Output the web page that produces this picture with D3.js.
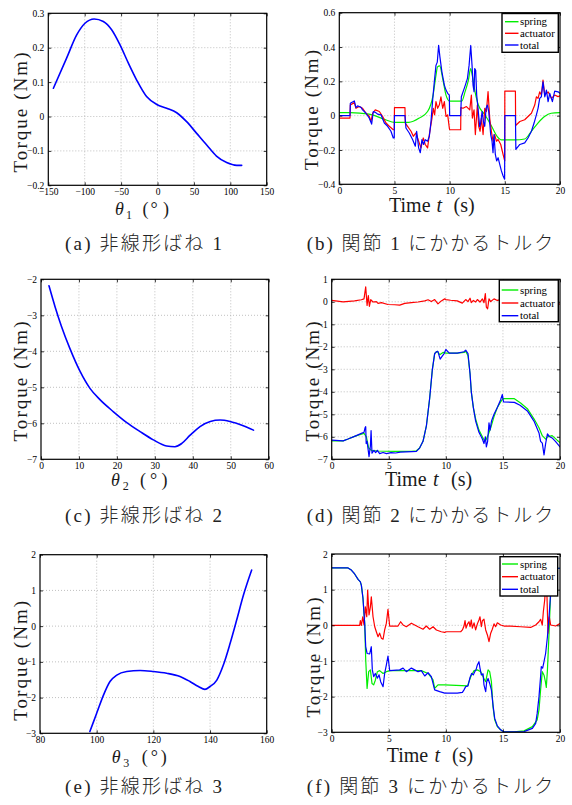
<!DOCTYPE html>
<html><head><meta charset="utf-8">
<script src="https://cdn.jsdelivr.net/npm/d3@7"></script>
<style>body{margin:0;background:#fff}svg{display:block}</style>
</head><body>
<svg id="c" width="572" height="805"></svg>
<script>
// ---------- DATA ----------
// (a) nonlinear spring 1
const aTheta  = [-143,-125,-111,-99.6,-87,-74.4,-63,-51.5,-40,-28.6,-15,-1,12.6,26.4,40,53.8,67.6,81,95,108.8,115.7];
const aTorque = [0.082,0.169,0.237,0.271,0.2835,0.276,0.252,0.208,0.155,0.106,0.058,0.035,0.024,0.011,-0.015,-0.049,-0.083,-0.115,-0.134,-0.142,-0.142];
// (c) nonlinear spring 2
const cTheta  = [2.1,3.7,5.4,7.6,10.3,12.9,15.6,19.1,22.6,26.1,29.6,33.1,35.3,37.1,39.3,41.9,44.6,47.2,49.8,53.3,56];
const cTorque = [-2.18,-2.76,-3.31,-3.92,-4.56,-5.03,-5.35,-5.68,-5.98,-6.23,-6.46,-6.63,-6.65,-6.56,-6.33,-6.09,-5.95,-5.91,-5.95,-6.07,-6.19];
// (e) nonlinear spring 3
const eTheta  = [97.6,100,102.4,104.7,107.1,110.6,115.3,120,124.7,129.4,132.9,135.9,138.2,140,142.4,144.7,147.1,149.4,151.8,154.7];
const eTorque = [-2.95,-2.44,-1.93,-1.55,-1.37,-1.27,-1.24,-1.27,-1.32,-1.41,-1.55,-1.69,-1.77,-1.69,-1.51,-1.09,-0.48,0.17,0.87,1.57];

// (b) joint 1 torques [t, torque]
const bSpring = [[0,0.018],[1,0.018],[2.7,0.009],[4.2,-0.024],[5,-0.039],[6.3,-0.039],[7.25,-0.014],[8,0.024],[8.5,0.12],[8.76,0.235],[8.9,0.284],[9.1,0.29],[9.37,0.216],[9.67,0.12],[10,0.085],[11.1,0.085],[11.4,0.14],[11.7,0.207],[11.9,0.274],[12.05,0.235],[12.3,0.14],[12.6,0.062],[13.2,0.005],[13.8,-0.062],[14.3,-0.12],[14.7,-0.141],[15.9,-0.141],[16.8,-0.136],[17.4,-0.091],[18,-0.043],[18.6,-0.005],[19.2,0.014],[20,0.018]];
const bActuator = [[0,-0.014],[0.97,-0.014],[1,0.062],[1.36,0.076],[1.51,0.043],[1.81,0.053],[2.11,0.043],[2.42,0.014],[2.72,-0.005],[2.87,-0.034],[3.02,0.014],[3.26,0.034],[3.63,0.024],[3.93,-0.005],[4.23,-0.043],[4.53,-0.062],[4.89,-0.082],[4.98,-0.082],[5,0.047],[5.95,0.047],[5.98,-0.043],[6.19,-0.062],[6.5,-0.091],[6.71,-0.12],[6.95,-0.101],[7.19,-0.149],[7.4,-0.188],[7.61,-0.13],[7.79,-0.168],[8,-0.188],[8.16,-0.11],[8.4,-0.014],[8.52,0.043],[8.64,0.005],[8.76,0.082],[8.91,0.043],[9.06,0.062],[9.21,0.11],[9.37,0.043],[9.52,0.082],[9.67,-0.005],[9.82,0.005],[9.97,-0.072],[10,-0.082],[11,-0.082],[11.02,0.047],[11.21,0.043],[11.52,0.053],[11.82,0.034],[11.97,0.12],[12.06,-0.014],[12.21,0.034],[12.33,-0.11],[12.51,0.062],[12.63,-0.062],[12.76,-0.091],[12.88,-0.014],[13.03,-0.11],[13.18,0.043],[13.33,0.024],[13.48,0.14],[13.63,-0.014],[13.78,-0.091],[13.93,-0.149],[14.08,-0.11],[14.24,-0.149],[14.39,-0.139],[14.63,-0.168],[14.84,-0.226],[14.99,-0.264],[15,0.143],[15.96,0.143],[15.98,-0.057],[16.36,-0.034],[16.8,-0.024],[17.41,0.014],[17.71,0.062],[17.86,0.11],[18.01,0.101],[18.16,0.139],[18.31,0.12],[18.46,0.207],[18.62,0.12],[18.92,0.139],[19.22,0.101],[19.52,0.12],[19.82,0.111],[20,0.115]];
const bTotal = [[0,0],[0.97,0],[1,0.072],[1.36,0.086],[1.51,0.047],[1.66,0.057],[1.96,0.049],[2.11,0.034],[2.42,0.014],[2.72,-0.015],[2.93,-0.049],[3.08,0.024],[3.26,0.02],[3.47,0.009],[3.78,0.005],[4.08,-0.043],[4.38,-0.062],[4.68,-0.091],[4.89,-0.13],[4.98,-0.13],[5,0],[5.95,0],[6.04,-0.072],[6.34,-0.101],[6.65,-0.14],[6.89,-0.178],[7.01,-0.091],[7.19,-0.188],[7.34,-0.216],[7.49,-0.14],[7.64,-0.168],[7.79,-0.14],[8,-0.149],[8.16,-0.12],[8.31,-0.034],[8.46,0.091],[8.61,0.197],[8.76,0.293],[8.88,0.312],[9,0.41],[9.12,0.341],[9.3,0.254],[9.52,0.178],[9.67,0.149],[9.82,0.13],[9.97,0.12],[10,0],[11,0],[11.06,0.11],[11.37,0.168],[11.61,0.216],[11.76,0.293],[11.91,0.409],[12.03,0.293],[12.12,0.178],[12.21,0.14],[12.27,0.274],[12.36,0.264],[12.45,0.12],[12.57,0.043],[12.72,-0.064],[12.81,-0.043],[12.94,0.024],[13.06,-0.034],[13.18,-0.062],[13.3,0.043],[13.42,0.062],[13.54,0.024],[13.63,-0.043],[13.72,-0.11],[13.84,-0.149],[13.93,-0.216],[14.02,-0.11],[14.14,-0.226],[14.26,-0.264],[14.39,-0.245],[14.54,-0.284],[14.69,-0.322],[14.84,-0.35],[14.98,-0.37],[15,0],[15.96,0],[16,-0.197],[16.36,-0.168],[16.8,-0.159],[17.1,-0.13],[17.41,-0.091],[17.65,-0.043],[17.86,0.005],[18.01,0.043],[18.16,0.101],[18.31,0.11],[18.46,0.197],[18.62,0.11],[18.77,0.149],[18.92,0.082],[19.07,0.13],[19.31,0.082],[19.52,0.143],[19.82,0.139],[20,0.13]];

// (d) joint 2 torques
const dSpring = [[0,-6.18],[1,-6.18],[1.43,-6.1],[2,-5.98],[2.6,-5.88],[2.83,-5.85],[3.04,-6.0],[3.24,-6.5],[3.47,-6.6],[4.06,-6.63],[5.52,-6.65],[6.98,-6.65],[7.42,-6.62],[7.7,-6.5],[8,-6.2],[8.3,-5.5],[8.58,-4.3],[8.82,-3.0],[9.02,-2.3],[9.26,-2.2],[9.46,-2.35],[9.75,-2.25],[10,-2.28],[11,-2.28],[11.59,-2.25],[11.74,-2.2],[11.94,-2.4],[12.12,-3.2],[12.23,-4.0],[12.41,-4.7],[12.61,-5.2],[12.9,-5.7],[13.2,-6.0],[13.4,-6.2],[13.55,-6.1],[13.72,-5.9],[13.93,-5.6],[14.22,-5.1],[14.51,-4.7],[14.8,-4.45],[15,-4.3],[15.97,-4.3],[16.55,-4.5],[17.14,-4.75],[17.72,-5.2],[18.16,-5.6],[18.45,-5.95],[18.74,-6.1],[18.9,-6.0],[19.31,-5.95],[19.75,-6.15],[20,-6.25]];
const dActuator = [[0,0.06],[1,0],[2,0.04],[2.6,0.09],[2.83,0.13],[2.98,0.66],[3.1,-0.16],[3.21,0.28],[3.3,-0.2],[3.42,0.1],[3.62,-0.01],[3.91,0.01],[4.06,-0.07],[4.35,-0.04],[4.93,-0.12],[5.52,-0.13],[5.96,-0.15],[6.4,-0.07],[6.98,-0.04],[7.56,-0.01],[8.15,0.04],[8.44,0.09],[8.73,0.01],[9.02,0.1],[9.31,-0.09],[9.6,0.04],[9.9,0.13],[10,0.1],[10.42,0.07],[11,0.04],[11.44,-0.06],[11.74,0.1],[11.94,0.01],[12.12,0.16],[12.23,-0.04],[12.41,0.06],[12.61,-0.01],[12.76,0.1],[12.99,-0.01],[13.2,0.13],[13.34,-0.04],[13.46,0.36],[13.55,-0.24],[13.66,-0.31],[13.78,0.13],[13.93,0.01],[14.22,0.13],[14.51,0.06],[14.8,0.1],[15.5,0.05],[16,0],[17,0.05],[18,-0.1],[18.5,0.1],[19,-0.05],[20,-0.1]];
const dTotal = [[0,-6.15],[1,-6.18],[1.43,-6.1],[2,-5.98],[2.6,-5.85],[2.83,-5.8],[2.92,-5.6],[2.98,-5.55],[3.02,-6.3],[3.1,-6.2],[3.27,-6.88],[3.39,-6.4],[3.45,-5.72],[3.53,-6.73],[3.7,-6.6],[3.85,-6.7],[4,-6.6],[4.2,-6.75],[4.5,-6.7],[4.8,-6.75],[5.2,-6.7],[5.6,-6.72],[6,-6.68],[6.5,-6.67],[7,-6.66],[7.42,-6.65],[7.7,-6.5],[8,-6.2],[8.3,-5.5],[8.58,-4.3],[8.82,-3.0],[9.02,-2.3],[9.17,-2.22],[9.3,-2.2],[9.5,-2.55],[9.7,-2.4],[9.85,-2.3],[10,-2.12],[10.3,-2.28],[11,-2.28],[11.59,-2.22],[11.74,-2.15],[11.94,-2.3],[12.12,-3.2],[12.23,-4.0],[12.41,-4.7],[12.61,-5.3],[12.9,-5.8],[13.2,-6.1],[13.34,-6.3],[13.46,-6.0],[13.55,-6.45],[13.66,-6.2],[13.78,-5.38],[13.87,-5.7],[14,-5.3],[14.22,-5.0],[14.51,-4.7],[14.8,-4.35],[14.95,-4.12],[15.05,-4.45],[16,-4.47],[16.5,-4.6],[17.14,-4.85],[17.72,-5.3],[18.16,-5.83],[18.3,-6.2],[18.45,-6.28],[18.6,-6.8],[18.74,-6.3],[18.9,-5.87],[19.1,-6.0],[19.31,-6.05],[19.6,-6.2],[20,-6.45]];

// (f) joint 3 torques
const fSpring = [[0,1.61],[1.43,1.61],[1.72,1.55],[2.01,1.44],[2.31,1.29],[2.51,1.22],[2.6,1.12],[2.74,0.76],[2.89,0.06],[2.98,-0.97],[3.1,-1.77],[3.24,-1.3],[3.39,-1.25],[3.53,-1.63],[3.68,-1.67],[3.82,-1.54],[4.0,-1.3],[4.2,-1.27],[4.5,-1.35],[4.79,-1.3],[5.08,-1.27],[6,-1.27],[7,-1.27],[7.85,-1.27],[8.44,-1.35],[8.88,-1.53],[9.02,-1.77],[9.31,-1.67],[9.9,-1.67],[11.9,-1.7],[12.03,-1.58],[12.2,-1.43],[12.47,-1.27],[12.76,-1.25],[13.05,-1.3],[13.34,-1.49],[13.49,-1.58],[13.7,-1.25],[13.84,-1.3],[13.99,-1.58],[14.13,-2.28],[14.28,-2.65],[14.51,-2.84],[14.8,-2.93],[15.09,-2.99],[15.97,-2.99],[16.85,-2.96],[17.58,-2.84],[18,-2.65],[18.16,-2.37],[18.3,-1.81],[18.45,-1.3],[18.6,-1.4],[18.72,-1.58],[18.8,-1.74],[18.9,-1.25],[19.04,-0.22],[19.18,0.9],[19.33,1.45],[19.6,1.6],[20,1.6]];
const fActuator = [[0,0],[2.45,0],[2.51,0.13],[2.6,0],[2.72,0.24],[2.83,0.01],[2.95,0.52],[3.07,0.24],[3.15,0.99],[3.27,0.29],[3.39,0.52],[3.47,0.8],[3.62,0.24],[3.77,-0.04],[3.91,-0.18],[4.06,-0.32],[4.2,-0.22],[4.35,-0.36],[4.5,-0.39],[4.64,-0.13],[4.79,0.06],[4.93,0.45],[5.08,-0.02],[5.52,-0.02],[5.81,-0.02],[6.04,0.1],[6.25,0.01],[6.54,-0.04],[6.98,0.06],[7.27,0.01],[7.56,-0.04],[8,-0.11],[8.29,-0.02],[8.58,-0.11],[8.88,-0.04],[9.17,-0.13],[9.6,-0.18],[9.9,-0.2],[10,-0.18],[11.3,-0.18],[11.45,-0.13],[11.59,-0.02],[11.68,0.13],[11.77,-0.08],[11.9,0.04],[12.03,0.1],[12.12,-0.04],[12.23,0.15],[12.32,-0.08],[12.47,0.07],[12.61,-0.13],[12.76,0.04],[12.9,0.15],[12.99,0.24],[13.11,-0.04],[13.2,0.13],[13.34,0.17],[13.49,-0.13],[13.64,-0.27],[13.78,-0.46],[13.93,-0.22],[14.07,-0.11],[14.22,0.04],[14.36,-0.04],[14.51,0.07],[14.8,0.01],[15.1,-0.02],[15.68,-0.02],[16.55,-0.04],[17.43,-0.06],[17.87,0.01],[18.16,0.1],[18.3,0.17],[18.45,0.01],[18.54,0.38],[18.66,0.71],[18.75,1.18],[18.86,0.8],[18.95,-0.22],[19.06,0.24],[19.18,0.01],[19.62,-0.02],[20,0.05]];
const fTotal = [[0,1.61],[1.43,1.61],[1.72,1.55],[2.01,1.44],[2.31,1.29],[2.51,1.22],[2.6,1.12],[2.74,0.76],[2.89,0.06],[2.98,-0.6],[3.1,-0.79],[3.33,-0.8],[3.47,-0.6],[3.56,-1.25],[3.68,-1.44],[3.82,-1.35],[4,-1.48],[4.15,-1.39],[4.29,-1.58],[4.5,-1.72],[4.64,-1.35],[4.79,-1.11],[4.93,-0.86],[5.08,-1.27],[5.96,-1.25],[6.25,-1.2],[6.54,-1.3],[6.98,-1.2],[7.27,-1.25],[7.56,-1.3],[7.85,-1.27],[8.15,-1.42],[8.44,-1.33],[8.73,-1.44],[9.02,-1.81],[9.46,-1.86],[9.9,-1.9],[10,-1.9],[11,-1.9],[11.45,-1.88],[11.59,-1.81],[11.74,-1.72],[11.94,-1.7],[12.12,-1.46],[12.26,-1.35],[12.41,-1.39],[12.53,-1.3],[12.64,-1.25],[12.76,-1.11],[12.9,-1.02],[12.99,-1.2],[13.11,-1.39],[13.26,-1.36],[13.34,-1.67],[13.49,-1.86],[13.58,-1.58],[13.7,-1.49],[13.84,-1.63],[13.99,-1.81],[14.13,-2.23],[14.28,-2.61],[14.51,-2.82],[14.8,-2.93],[15.09,-2.99],[15.97,-2.99],[16.85,-2.98],[17.58,-2.89],[17.87,-2.75],[18,-2.47],[18.16,-2.0],[18.3,-1.44],[18.36,-1.16],[18.48,-1.2],[18.6,-1.02],[18.74,-0.79],[18.9,-0.32],[19.04,0.24],[19.18,0.9],[19.33,1.55],[19.6,1.6],[20,1.6]];

// ticks
const aXTicks = [-150,-100,-50,0,50,100,150], aYTicks = [-0.2,-0.1,0,0.1,0.2,0.3];
const bXTicks = [0,5,10,15,20],               bYTicks = [-0.4,-0.2,0,0.2,0.4,0.6];
const cXTicks = [0,10,20,30,40,50,60],        cYTicks = [-7,-6,-5,-4,-3,-2];
const dXTicks = [0,5,10,15,20],               dYTicks = [-7,-6,-5,-4,-3,-2,-1,0,1];
const eXTicks = [80,100,120,140,160],         eYTicks = [-3,-2,-1,0,1,2];
const fXTicks = [0,5,10,15,20],               fYTicks = [-3,-2,-1,0,1,2];

// texts
const legendLabels = ["spring","actuator","total"];
const yLabelText = "Torque (Nm)";
const captions = ["(a) 非線形ばね 1","(b) 関節 1 にかかるトルク","(c) 非線形ばね 2","(d) 関節 2 にかかるトルク","(e) 非線形ばね 3","(f) 関節 3 にかかるトルク"];

// ---------- DRAWING ----------
const SERIF = "'Liberation Serif','Times New Roman',serif";
const CJK = "'Liberation Serif','Noto Sans CJK JP',serif";
const TXT = "#1a1a1a";
const svg = d3.select("#c");
const fmt = v => (v < 0 ? "\u2212" : "") + Math.abs(v);
const COL = {spring:"#00ee00", actuator:"#ff0000", total:"#0000ff"};

function panel(c, series) {
  const x = d3.scaleLinear().domain(c.xd).range([c.l, c.r]);
  const y = d3.scaleLinear().domain(c.yd).range([c.b, c.t]);
  const g = svg.append("g");
  const gridCol = "#b0b0b0";
  g.append("g").selectAll("line").data(c.xt.filter(v => v > c.xd[0] && v < c.xd[1])).join("line")
    .attr("x1", d => x(d)).attr("x2", d => x(d)).attr("y1", c.t).attr("y2", c.b)
    .attr("stroke", gridCol).attr("stroke-width", 0.8).attr("stroke-dasharray", "1,2");
  g.append("g").selectAll("line").data(c.yt.filter(v => v > c.yd[0] && v < c.yd[1])).join("line")
    .attr("y1", d => y(d)).attr("y2", d => y(d)).attr("x1", c.l).attr("x2", c.r)
    .attr("stroke", gridCol).attr("stroke-width", 0.8).attr("stroke-dasharray", "1,2");
  const cid = "clip" + c.id;
  svg.append("clipPath").attr("id", cid).append("rect")
    .attr("x", c.l).attr("y", c.t).attr("width", c.r - c.l).attr("height", c.b - c.t);
  const lg = g.append("g").attr("clip-path", `url(#${cid})`);
  series.forEach(s => {
    lg.append("path").datum(s.data)
      .attr("d", d3.line().x(d => x(d[0])).y(d => y(d[1])).curve(s.curve || d3.curveLinear))
      .attr("fill", "none").attr("stroke", s.color).attr("stroke-width", s.w || 1.3)
      .attr("stroke-linejoin", "round").attr("stroke-linecap", "round");
  });
  const axes = [
    g.append("g").attr("transform", `translate(0,${c.b})`).call(d3.axisBottom(x).tickValues(c.xt).tickSize(-3).tickPadding(3).tickFormat(fmt)),
    g.append("g").attr("transform", `translate(0,${c.t})`).call(d3.axisTop(x).tickValues(c.xt).tickSize(-3).tickFormat("")),
    g.append("g").attr("transform", `translate(${c.l},0)`).call(d3.axisLeft(y).tickValues(c.yt).tickSize(-3).tickPadding(4).tickFormat(fmt)),
    g.append("g").attr("transform", `translate(${c.r},0)`).call(d3.axisRight(y).tickValues(c.yt).tickSize(-3).tickFormat(""))
  ];
  axes.forEach(a => {
    a.select(".domain").remove();
    a.attr("font-family", SERIF).attr("font-size", 9.5);
    a.selectAll("line").attr("stroke", "#000").attr("stroke-width", 0.8);
    a.selectAll("text").attr("fill", "#000");
  });
  g.append("rect").attr("x", c.l).attr("y", c.t).attr("width", c.r - c.l).attr("height", c.b - c.t)
    .attr("fill", "none").attr("stroke", "#000").attr("stroke-width", 1.2);
  // y label
  svg.append("text").attr("transform", `translate(${c.ylx},${c.yly}) rotate(-90)`)
    .attr("text-anchor", "middle").attr("font-family", SERIF).attr("font-size", 19).attr("fill", TXT)
    .attr("textLength", 120).attr("lengthAdjust", "spacing").text(yLabelText);
  return {x, y, g};
}

function piece(x, y, str, size, italic) {
  svg.append("text").attr("x", x).attr("y", y).attr("font-family", SERIF).attr("fill", TXT)
    .attr("font-size", size).attr("font-style", italic ? "italic" : "normal").text(str);
}
function thetaLabel(x0, base, sub, dx) {
  piece(x0, base, "θ", 18, true);
  piece(x0 + dx[0], base + 4, sub, 12, false);
  piece(x0 + dx[1], base, "(", 18, false);
  piece(x0 + dx[2], base, "°", 18, false);
  piece(x0 + dx[3], base, ")", 18, false);
}
function timeLabel(xs, base) {
  piece(xs[0], base, "Time", 20, false);
  piece(xs[1], base, "t", 20, true);
  piece(xs[2], base, "(s)", 20, false);
}
function caption(str, x0, x1, base) {
  svg.append("text").attr("x", x0).attr("y", base).attr("font-family", CJK).attr("font-size", 19)
    .attr("font-weight", 300)
    .attr("textLength", x1 - x0).attr("lengthAdjust", "spacing").attr("fill", "#222").text(str);
}
function legend(box, rows, lx0, lx1, tx) {
  const g = svg.append("g");
  g.append("rect").attr("x", box[0]).attr("y", box[1]).attr("width", box[2] - box[0]).attr("height", box[3] - box[1])
    .attr("fill", "#fff").attr("stroke", "#000").attr("stroke-width", 1.4);
  legendLabels.forEach((lab, i) => {
    g.append("line").attr("x1", lx0).attr("x2", lx1).attr("y1", rows[i]).attr("y2", rows[i])
      .attr("stroke", COL[lab]).attr("stroke-width", 1.4);
    g.append("text").attr("x", tx).attr("y", rows[i] + 3.6).attr("font-family", SERIF)
      .attr("font-size", 10.8).attr("fill", "#000").text(lab);
  });
}
const zip = (a, b) => a.map((v, i) => [v, b[i]]);
const tsSeries = (s, a, t) => [
  {data: s, color: COL.spring, w: 1.2},
  {data: a, color: COL.actuator, w: 1.2},
  {data: t, color: COL.total, w: 1.2}
];

// (a)
panel({id:"a", l:48.3, r:266.7, t:13.3, b:185.3, xd:[-150,150], yd:[-0.2,0.3], xt:aXTicks, yt:aYTicks, ylx:26.7, yly:112.5},
  [{data: zip(aTheta, aTorque), color: COL.total, w: 1.6, curve: d3.curveMonotoneX}]);
thetaLabel(115, 215, "1", [11, 27.5, 35.5, 48]);
caption(captions[0], 65, 222, 249.5);

// (b)
panel({id:"b", l:339.3, r:560, t:12.7, b:184.3, xd:[0,20], yd:[-0.4,0.6], xt:bXTicks, yt:bYTicks, ylx:318.3, yly:110},
  [{data: bSpring, color: COL.spring, w: 1.2, curve: d3.curveMonotoneX},
   {data: bActuator, color: COL.actuator, w: 1.2},
   {data: bTotal, color: COL.total, w: 1.2}]);
legend([502, 13.5, 558.3, 52.3], [21.7, 33.3, 45], 505, 518.5, 520);
timeLabel([389, 436.5, 453.5], 212);
caption(captions[1], 306.7, 553.3, 249.5);

// (c)
panel({id:"c", l:41, r:268.7, t:279.3, b:459.3, xd:[0,60], yd:[-7,-2], xt:cXTicks, yt:cYTicks, ylx:27.3, yly:381.5},
  [{data: zip(cTheta, cTorque), color: COL.total, w: 1.6, curve: d3.curveMonotoneX}]);
thetaLabel(111, 486, "2", [11.7, 29, 39, 50.5]);
caption(captions[2], 65, 222, 521.7);

// (d)
panel({id:"d", l:331.7, r:560, t:279.3, b:459.3, xd:[0,20], yd:[-7,1], xt:dXTicks, yt:dYTicks, ylx:319, yly:381.5},
  tsSeries(dSpring, dActuator, dTotal));
legend([499.3, 280, 558.3, 321.7], [290, 303, 315.7], 501.7, 518.3, 520);
timeLabel([385, 433, 451], 485.5);
caption(captions[3], 306.7, 553.3, 521.7);

// (e)
panel({id:"e", l:40, r:266.7, t:554.7, b:733.3, xd:[80,160], yd:[-3,2], xt:eXTicks, yt:eYTicks, ylx:26.7, yly:660.8},
  [{data: zip(eTheta, eTorque), color: COL.total, w: 1.6, curve: d3.curveMonotoneX}]);
thetaLabel(111.7, 763, "3", [11.6, 30, 39, 49]);
caption(captions[4], 65, 222, 793);

// (f)
panel({id:"f", l:331.7, r:560, t:554, b:732.3, xd:[0,20], yd:[-3,2], xt:fXTicks, yt:fYTicks, ylx:320, yly:657.5},
  tsSeries(fSpring, fActuator, fTotal));
legend([500, 556.7, 557.7, 596], [564, 576.7, 589.3], 502, 518, 520);
timeLabel([386.7, 434.5, 452], 762);
caption(captions[5], 306.7, 553.3, 793);
</script>
</body></html>
